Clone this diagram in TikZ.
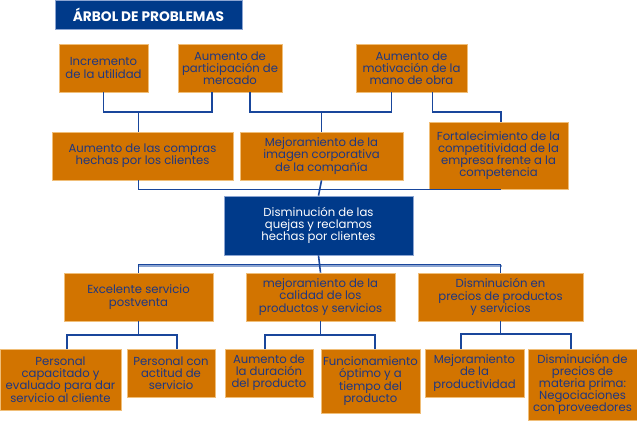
\documentclass[tikz,border=0pt]{standalone}
\usepackage{fontspec}
\setmainfont{Poppins}
\definecolor{naranja}{RGB}{210,116,0}
\definecolor{bordenar}{RGB}{240,190,120}
\definecolor{azulcaja}{RGB}{0,58,138}
\definecolor{azultexto}{RGB}{30,55,130}
\definecolor{azullinea}{RGB}{25,70,155}
\definecolor{azulclaro}{RGB}{140,165,210}
\tikzset{
  caja/.style={draw=bordenar,line width=0.8bp,fill=naranja,text=azultexto,
    align=center,inner sep=1bp,font=\fontsize{11.7}{12.2}\selectfont},
  nucleo/.style={draw=azulclaro,line width=0.8bp,fill=azulcaja,text=white,
    align=center,inner sep=1bp,font=\fontsize{11.7}{12.2}\selectfont},
  enlace/.style={draw=azullinea,line width=1.6bp}
}
\begin{document}
\begin{tikzpicture}[x=1bp,y=-1bp]
\useasboundingbox (0,0) rectangle (637,421);
% titulo
\node[nucleo,minimum width=187bp,minimum height=29bp,font=\bfseries\fontsize{13.8}{15}\selectfont] (titulo) at (148.5,14.5) {ÁRBOL DE PROBLEMAS};
% efectos
\node[caja,minimum width=89bp,minimum height=48bp] (incr) at (103.5,68) {Incremento\\de la utilidad};
\node[caja,minimum width=104bp,minimum height=48bp] (part) at (230,68) {Aumento de\\participación de\\mercado};
\node[caja,minimum width=111bp,minimum height=48bp] (motiv) at (411.5,68) {Aumento de\\motivación de la\\mano de obra};
\node[caja,minimum width=181bp,minimum height=48bp] (compras) at (142.5,156) {Aumento de las compras\\hechas por los clientes};
\node[caja,minimum width=163bp,minimum height=48bp] (imagen) at (321.5,156) {Mejoramiento de la\\imagen corporativa\\de la compañía};
\node[caja,minimum width=139bp,minimum height=67bp] (fortal) at (498.5,155.5) {Fortalecimiento de la\\competitividad de la\\empresa frente a la\\competencia};
% problema central
\node[nucleo,minimum width=189bp,minimum height=59bp] (central) at (318.5,225.5) {Disminución de las\\quejas y reclamos\\hechas por clientes};
% causas
\node[caja,minimum width=149bp,minimum height=48bp] (servicio) at (138.5,297) {Excelente servicio\\postventa};
\node[caja,minimum width=149bp,minimum height=48bp] (calidad) at (320.5,297) {mejoramiento de la\\calidad de los\\productos y servicios};
\node[caja,minimum width=165bp,minimum height=48bp] (precios) at (500.5,297) {Disminución en\\precios de productos\\y servicios};
\node[caja,minimum width=121bp,minimum height=61bp] (capac) at (60.5,379.5) {Personal\\capacitado y\\evaluado para dar\\servicio al cliente};
\node[caja,minimum width=88bp,minimum height=48bp] (actitud) at (171,373) {Personal con\\actitud de\\servicio};
\node[caja,minimum width=88bp,minimum height=48bp] (duracion) at (269,373) {Aumento de\\la duración\\del producto};
\node[caja,minimum width=99bp,minimum height=64bp] (funcion) at (370.5,381) {Funcionamiento\\óptimo y a\\tiempo del\\producto};
\node[caja,minimum width=99bp,minimum height=48bp] (productiv) at (474.5,373) {Mejoramiento\\de la\\productividad};
\node[caja,minimum width=109bp,minimum height=71bp] (materia) at (582.5,384.5) {Disminución de\\precios de\\materia prima:\\Negociaciones\\con proveedores};
% niveles de las lineas
\coordinate (n1) at (0,112);
\coordinate (n3) at (0,264.5);
\coordinate (n4) at (0,335);
% efectos arriba
\draw[enlace] (incr.south) -- (incr.south |- n1) -- ([xshift=-18bp]part.south |- n1) -- ([xshift=-18bp]part.south);
\draw[enlace] ([xshift=-4bp]compras.north) -- ([xshift=-4bp]compras.north |- n1);
\draw[enlace] ([xshift=20bp]part.south) -- ([xshift=20bp]part.south |- n1) -- ([xshift=-20bp]motiv.south |- n1) -- ([xshift=-20bp]motiv.south);
\draw[enlace] (imagen.north) -- (imagen.north |- n1);
\draw[enlace] ([xshift=21bp]motiv.south) -- ([xshift=21bp]motiv.south |- n1) -| ([xshift=2.5bp]fortal.north);
% hacia el problema central
\draw[enlace] ([xshift=-4bp]compras.south) |- ([xshift=2.5bp]fortal.south);
\draw[enlace] (imagen.south) -- (central.north);
% causas
\draw[azulclaro,line width=1.6bp] ([xshift=-1bp,yshift=-1.6bp]servicio.north |- n3) -- ([xshift=1bp,yshift=-1.6bp]precios.north |- n3);
\draw[enlace] (servicio.north) -- (servicio.north |- n3) -- (precios.north |- n3) -- (precios.north);
\draw[enlace] (central.south) -- (calidad.north);
\draw[enlace] (servicio.south) -- (servicio.south |- n4);
\draw[enlace] ([xshift=6.5bp]capac.north) -- ([xshift=6.5bp]capac.north |- n4) -- ([xshift=6bp]actitud.north |- n4) -- ([xshift=6bp]actitud.north);
\draw[enlace] (calidad.south) -- (calidad.south |- n4);
\draw[enlace] ([xshift=-4bp]duracion.north) -- ([xshift=-4bp]duracion.north |- n4) -- ([xshift=4.5bp]funcion.north |- n4) -- ([xshift=4.5bp]funcion.north);
\draw[enlace] (precios.south) -- ([yshift=1bp]precios.south |- n4);
\draw[enlace] ([xshift=-13.5bp]productiv.north) -- ([xshift=-13.5bp,yshift=1bp]productiv.north |- n4) -- ([xshift=-11.5bp,yshift=1bp]materia.north |- n4) -- ([xshift=-11.5bp]materia.north);
\end{tikzpicture}
\end{document}
